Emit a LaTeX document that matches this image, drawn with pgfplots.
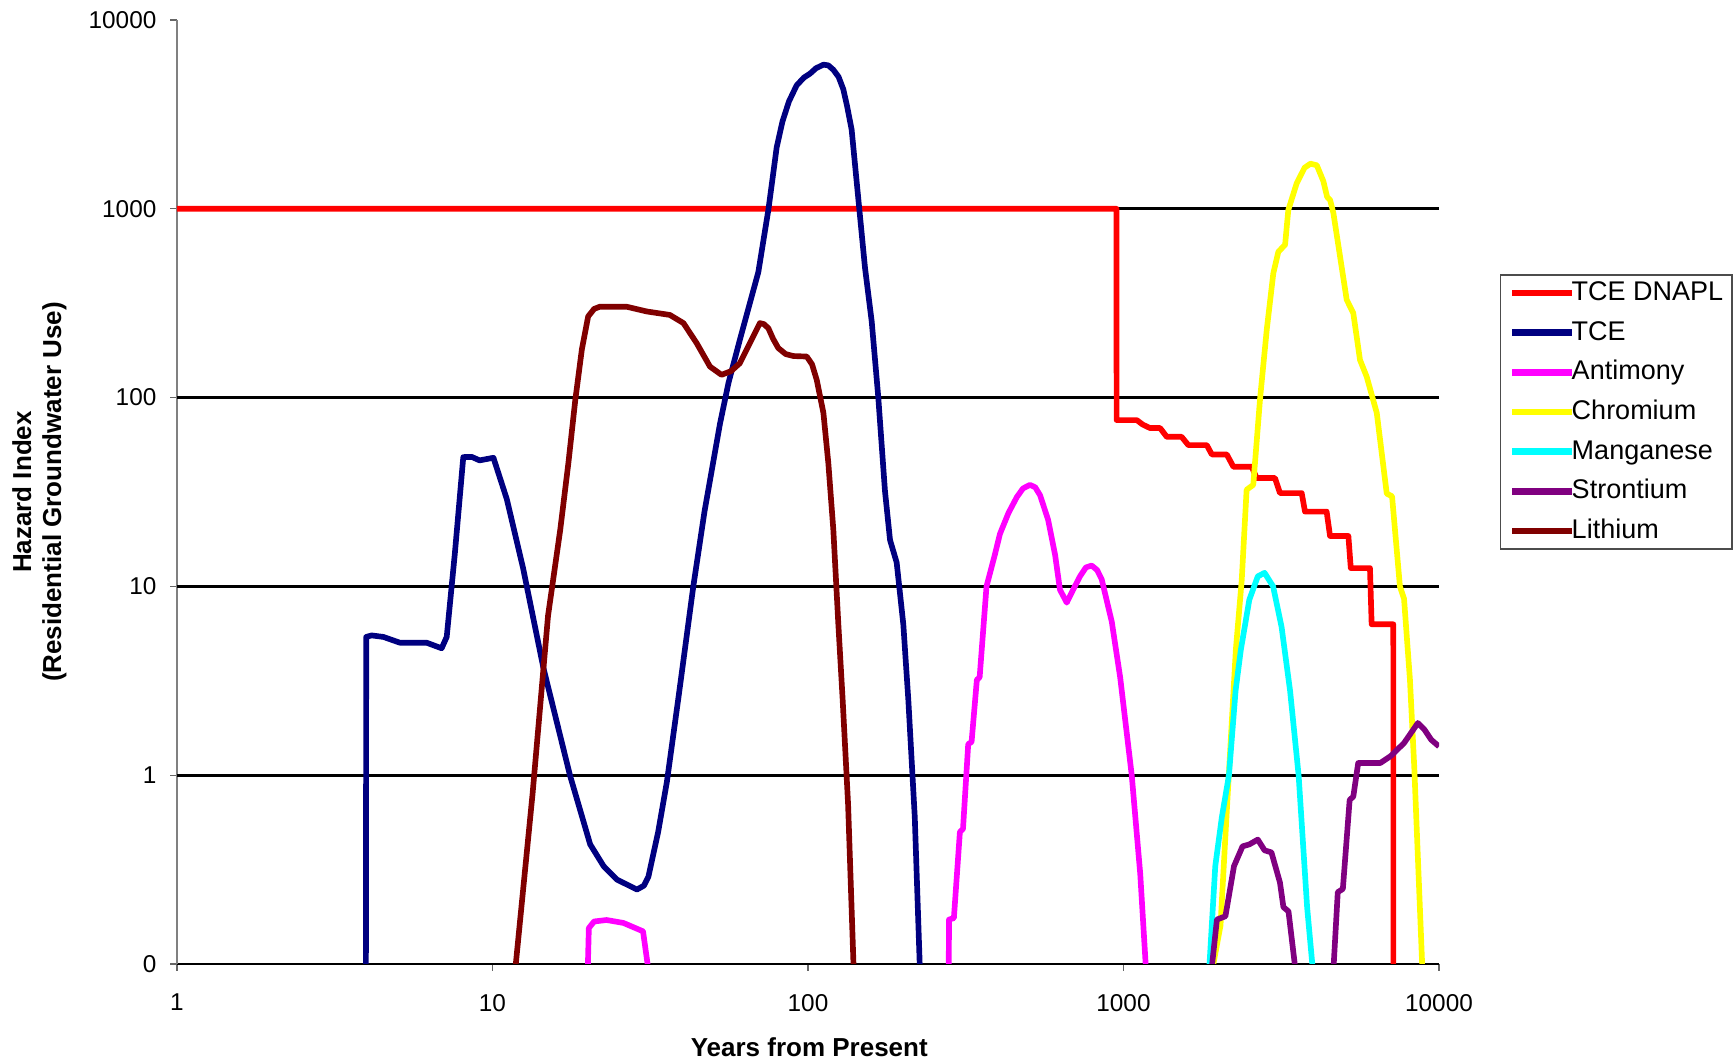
\documentclass[border=0pt]{standalone}
\usepackage{fontspec}
\setmainfont{Liberation Sans}
\usepackage{pgfplots}
\pgfplotsset{compat=1.18}
\definecolor{cRed}{RGB}{255,0,0}
\definecolor{cNavy}{RGB}{0,0,128}
\definecolor{cMag}{RGB}{255,0,255}
\definecolor{cYel}{RGB}{255,255,0}
\definecolor{cCyan}{RGB}{0,255,255}
\definecolor{cPur}{RGB}{128,0,128}
\definecolor{cBrown}{RGB}{128,0,0}
\begin{document}
\begin{tikzpicture}
\path[use as bounding box] (-53.1pt,-29.7pt) rectangle (467.1pt,289.2pt);
\begin{axis}[
  at={(0,0)}, anchor=south west,
  scale only axis, width=378.6pt, height=283.2pt,
  xmode=log, ymode=log,
  xmin=1, xmax=10000, ymin=0.1, ymax=10000,
  axis lines=left,
  x axis line style={-, draw=black, line width=0.5pt},
  y axis line style={-, draw=black!50, line width=0.5pt},
  xtick={1,10,100,1000,10000}, xticklabels={1,10,100,1000,10000},
  ytick={0.1,1,10,100,1000,10000}, yticklabels={0,1,10,100,1000,10000},
  extra y ticks={1,10,100,1000}, extra y tick labels={},
  extra y tick style={grid=major, major tick length=0pt},
  major grid style={black, line width=0.9pt},
  tick align=outside, major tick length=2.1pt,
  tick style={black!60, line width=0.4pt},
  xminorticks=false, yminorticks=false,
  /pgf/number format/assume math mode=true,
  tick label style={font=\fontsize{7.3}{8}\selectfont},
  yticklabel style={inner sep=0pt, xshift=-3.9pt},
  xticklabel style={inner sep=0pt, yshift=-6.75pt},
  xlabel={Years from Present},
  xlabel style={at={(axis description cs:0.501,0)}, anchor=center, yshift=-24.9pt, font=\bfseries\fontsize{7.8}{9}\selectfont},
  ylabel={Hazard Index\\(Residential Groundwater Use)},
  ylabel style={at={(axis description cs:-0.109,0.5)}, anchor=center, align=center, font=\bfseries\fontsize{7.8}{9}\selectfont},
  legend style={at={(1.048,0.731)}, anchor=north west, draw=black!70, line width=0.5pt, fill=white,
    inner xsep=2.6pt, inner ysep=1.7pt, font=\fontsize{8.1}{9}\selectfont, row sep=4.4pt,
    nodes={inner sep=0pt, text height=6pt, text depth=1.5pt},
    /tikz/every odd column/.append style={column sep=-1.2pt}},
  legend cell align=left,
  legend image code/.code={\draw[#1, line width=2pt] (0pt,0pt) -- (18.0pt,0pt);},
  every axis plot/.append style={line width=1.7pt, line join=round, no marks},
  unbounded coords=jump,
]
% TCE DNAPL
\addplot[cRed] coordinates {(1,1000)(950,1000)(951,76)(1102,76)(1150,72)(1213,69)(1306,69)(1371,62)(1528,62)(1606,56)(1837,56)(1905,50)(2125,50)(2230,43)(2549,43)(2644,37.5)(3021,37.5)(3134,31.2)(3672,31.2)(3761,24.9)(4404,24.9)(4515,18.5)(5162,18.5)(5253,12.5)(6043,12.5)(6117,6.3)(7166,6.3)(7170,0.08)};
\addlegendentry{TCE DNAPL}
% TCE
\addplot[cNavy] coordinates {(3.97,0.08)(3.98,5.4)(4.14,5.5)(4.51,5.4)(5.09,5.03)(6.19,5.03)(6.9,4.7)(7.16,5.4)(7.6,15)(8.08,48.4)(8.6,48.5)(9.1,46.5)(10.07,48)(11.1,29)(12.5,12.5)(14.5,3.7)(17.6,1.0)(20.4,0.43)(22.5,0.33)(24.8,0.28)(28.7,0.248)(30.2,0.26)(31.2,0.29)(33.5,0.5)(35.7,0.92)(39,2.7)(43.3,10)(47,25)(52.6,72.6)(56,120)(60.9,204)(69.6,462)(74.9,988)(79.6,2118)(83,2900)(87,3700)(92,4500)(97,4950)(101.5,5200)(106,5550)(111.9,5800)(116,5750)(120.3,5450)(125,5000)(129.4,4295)(133,3500)(137.5,2630)(145.5,988)(151.6,487)(159.2,253)(167,100.7)(175.4,32)(182,17.6)(191,13.4)(200.5,6.3)(208,2.5)(218,0.6)(227,0.08)};
\addlegendentry{TCE}
% Antimony
\addplot[cMag] coordinates {(20,0.08)(20.2,0.155)(21,0.168)(23,0.171)(26,0.165)(30,0.149)(31.6,0.08)(100,nan)(279,0.08)(280,0.172)(290,0.175)(303,0.50)(310,0.52)(322,1.46)(330,1.5)(343,3.2)(350,3.3)(368,10)(391,14.7)(406,19)(432,24.5)(459,29.7)(480,33)(505,34.5)(525,33.5)(544,30.4)(577,22.5)(607,14.7)(629,9.6)(661,8.2)(690,9.5)(728,11.3)(760,12.6)(793,12.9)(825,12.2)(853,10.9)(918,6.5)(976,3.3)(1062,1.0)(1130,0.3)(1185,0.08)};
\addlegendentry{Antimony}
% Chromium
\addplot[cYel] coordinates {(1880,0.08)(2030,0.16)(2100,0.45)(2160,1.05)(2270,4.6)(2370,10.8)(2456,32.5)(2578,34.5)(2710,99)(2845,229)(2985,456)(3097,593)(3252,644)(3330,986)(3540,1365)(3750,1650)(3915,1734)(4100,1700)(4300,1400)(4420,1156)(4516,1115)(4627,949)(5098,330)(5350,280)(5620,158)(5900,129)(6350,83)(6830,31)(7100,30)(7520,10)(7750,8.6)(8090,3.2)(8350,1.1)(8890,0.08)};
\addlegendentry{Chromium}
% Manganese
\addplot[cCyan] coordinates {(1859,0.08)(1954,0.33)(2050,0.6)(2159,1.0)(2266,2.8)(2354,4.6)(2505,8.5)(2665,11.3)(2800,11.8)(2980,10)(3170,6.1)(3373,2.8)(3590,1.0)(3820,0.2)(4015,0.08)};
\addlegendentry{Manganese}
% Strontium
\addplot[cPur] coordinates {(1883,0.08)(1978,0.172)(2104,0.179)(2240,0.33)(2384,0.42)(2505,0.43)(2665,0.456)(2800,0.40)(2944,0.39)(3133,0.27)(3213,0.20)(3334,0.19)(3546,0.08)(4000,nan)(4604,0.08)(4777,0.24)(4958,0.25)(5210,0.74)(5350,0.77)(5545,1.16)(6513,1.16)(7018,1.26)(7750,1.48)(8570,1.89)(9000,1.74)(9450,1.54)(10000,1.42)};
\addlegendentry{Strontium}
% Lithium
\addplot[cBrown] coordinates {(11.7,0.08)(13.4,0.8)(15.0,7)(16.4,20)(17.4,45)(18.3,97)(19.2,180)(20.1,269)(21,295)(21.9,303)(26.6,303)(30.8,286)(36.5,274)(40.3,248)(44.4,194)(48.9,146)(53.2,132)(57,138)(60.8,152)(66.2,202)(70.4,248)(72.5,245)(74.9,233)(77.5,205)(80.5,183)(85,170)(89.9,166)(99.1,165)(103,150)(106.6,124)(111.9,83)(116,45)(120.3,20)(124.8,6.3)(128.8,2.5)(134,0.7)(140,0.08)};
\addlegendentry{Lithium}
\end{axis}
\end{tikzpicture}
\end{document}
